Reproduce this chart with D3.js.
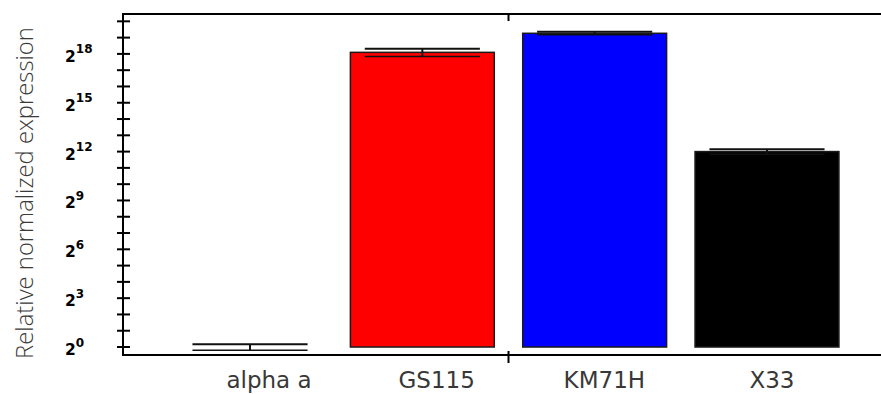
<!DOCTYPE html>
<html>
<head>
<meta charset="utf-8">
<script src="https://cdn.jsdelivr.net/npm/d3@7"></script>
<style>
  html, body { margin: 0; padding: 0; background: #fff; }
  svg { display: block; }
</style>
</head>
<body>
<svg id="chart" width="881" height="394"></svg>
<script>
// ---- data ----
const categories = ["alpha a", "GS115", "KM71H", "X33"];
const values = [1, 280000, 630000, 4100];
const errors = [0.13, 45000, 40000, 450];
const barColors = ["#ff0000", "#ff0000", "#0000ff", "#000000"];
const minorTickExponents = d3.range(0, 21);
const labelTickExponents = [0, 3, 6, 9, 12, 15, 18];
const yTitle = "Relative normalized expression";

// ---- layout ----
const axisX = 123, plotTop = 14, plotBottom = 355, plotRight = 881;

const svg = d3.select("#chart");

const y = d3.scaleLog().base(2)
  .domain([Math.pow(2, -0.49), Math.pow(2, 20.45)])
  .range([plotBottom, plotTop]);

const x = d3.scaleBand()
  .domain(categories)
  .range([163.85, 853.15])
  .paddingInner(0.165)
  .paddingOuter(0.0825);

const labelX = d3.scalePoint()
  .domain(categories)
  .range([269, 772]);

const data = categories.map((c, i) => ({ c, v: values[i], e: errors[i], col: barColors[i] }));

// bars
svg.append("g").selectAll("rect").data(data).join("rect")
  .attr("x", d => x(d.c))
  .attr("width", x.bandwidth())
  .attr("y", d => y(d.v))
  .attr("height", d => Math.max(0, y(1) - y(d.v)))
  .attr("fill", d => d.col)
  .attr("stroke", d => d.v > 1 ? "#1a1a1a" : "none")
  .attr("stroke-width", 1.5);

// error bars
const capW = x.bandwidth() * 0.8;
const eg = svg.append("g").attr("stroke", "#111").attr("stroke-width", 2).attr("fill", "none");
data.forEach(d => {
  const cx = x(d.c) + x.bandwidth() / 2;
  const yU = y(d.v + d.e), yL = y(d.v - d.e);
  eg.append("line").attr("x1", cx).attr("x2", cx).attr("y1", yU).attr("y2", yL);
  eg.append("line").attr("x1", cx - capW / 2).attr("x2", cx + capW / 2).attr("y1", yU).attr("y2", yU);
  eg.append("line").attr("x1", cx - capW / 2).attr("x2", cx + capW / 2).attr("y1", yL).attr("y2", yL)
    .attr("stroke-width", 1.5);
});

// frame lines
const fg = svg.append("g").attr("stroke", "#000").attr("stroke-width", 2);
fg.append("line").attr("x1", axisX).attr("x2", axisX).attr("y1", plotTop).attr("y2", plotBottom);
fg.append("line").attr("x1", axisX - 1).attr("x2", plotRight).attr("y1", plotBottom).attr("y2", plotBottom);
fg.append("line").attr("x1", axisX - 1).attr("x2", plotRight).attr("y1", plotTop).attr("y2", plotTop);

// x ticks between GS115 and KM71H (band boundary)
const midTick = (x("GS115") + x.bandwidth() + x("KM71H")) / 2;
fg.append("line").attr("x1", midTick).attr("x2", midTick).attr("y1", plotBottom - 4).attr("y2", plotBottom + 8);
fg.append("line").attr("x1", midTick).attr("x2", midTick).attr("y1", plotTop).attr("y2", plotTop + 7);

// y ticks
const tg = svg.append("g").attr("stroke", "#000").attr("stroke-width", 2);
minorTickExponents.forEach(k => {
  const yy = y(Math.pow(2, k));
  tg.append("line").attr("x1", axisX - 6).attr("x2", axisX + 7).attr("y1", yy).attr("y2", yy);
});

// y tick labels
const lg = svg.append("g").attr("font-family", "'DejaVu Sans', Verdana, sans-serif")
  .attr("font-weight", "bold").attr("fill", "#000");
labelTickExponents.forEach(k => {
  const yy = y(Math.pow(2, k));
  const t = lg.append("text").attr("x", 65).attr("y", yy + 8).attr("font-size", 15.5);
  t.append("tspan").text("2");
  t.append("tspan").attr("dy", -8.5).attr("font-size", 12).text(String(k));
});

// x labels
svg.append("g").selectAll("text").data(categories).join("text")
  .attr("x", d => labelX(d))
  .attr("y", 388)
  .attr("text-anchor", "middle")
  .attr("font-family", "'DejaVu Sans', sans-serif")
  .attr("font-size", 23)
  .attr("fill", "#383838")
  .text(d => d);

// y title
svg.append("text")
  .attr("transform", `translate(33, 193) rotate(-90)`)
  .attr("text-anchor", "middle")
  .attr("font-family", "'Open Sans', sans-serif")
  .attr("font-weight", 300)
  .attr("font-size", 23.8)
  .attr("fill", "#3a3a3a")
  .text(yTitle);
</script>
</body>
</html>
